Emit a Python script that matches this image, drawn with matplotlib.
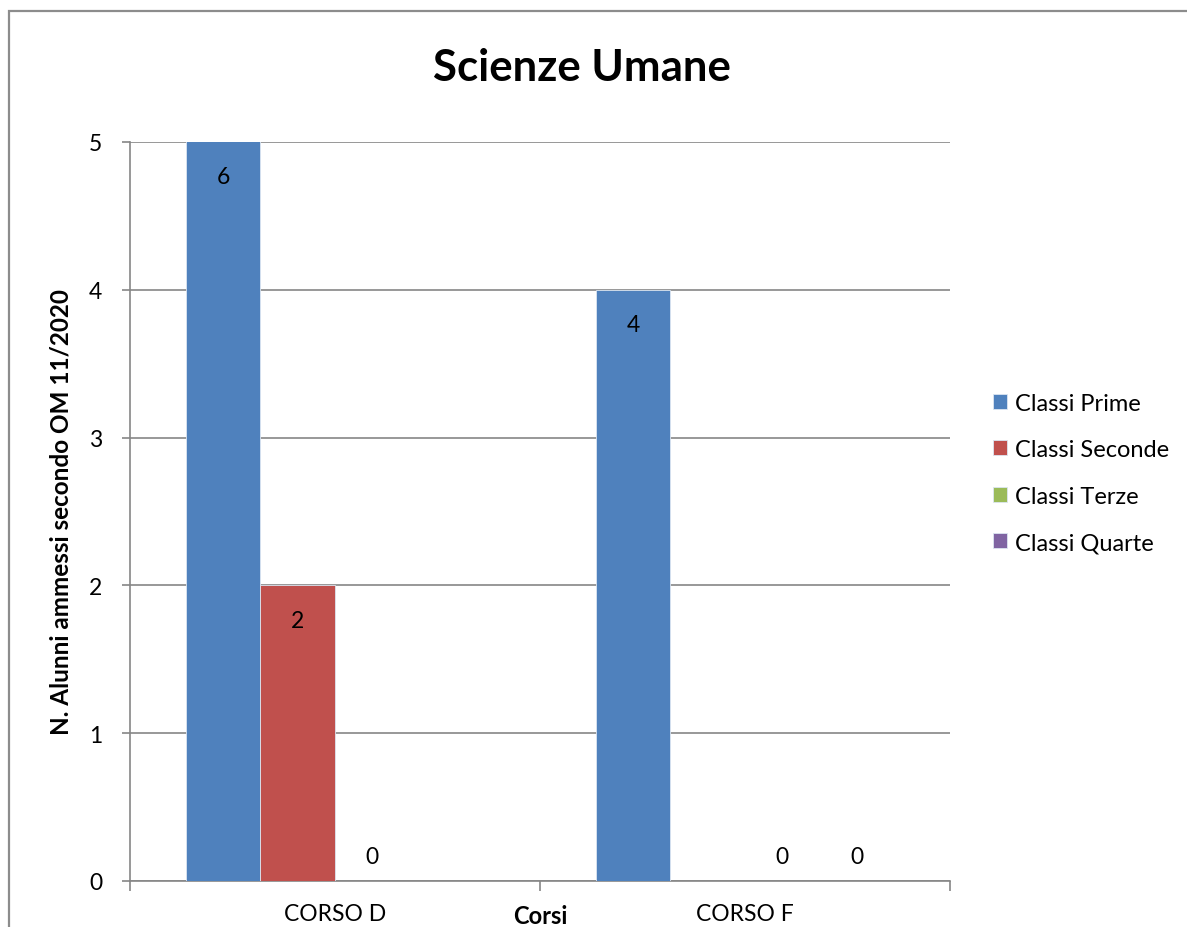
import numpy as np
import matplotlib
matplotlib.use("Agg")
import matplotlib.pyplot as plt
from matplotlib.patches import Rectangle

plt.rcParams['font.family'] = ['Lato', 'DejaVu Sans']

categories = ["CORSO D", "CORSO F"]
series_names = ["Classi Prime", "Classi Seconde", "Classi Terze", "Classi Quarte"]
prime = [6, 4]
seconde = [2, np.nan]
terze = [0, 0]
quarte = [np.nan, 0]
series_values = [prime, seconde, terze, quarte]
colors = ["#4F81BD", "#C0504D", "#9BBB59", "#8064A2"]
yticks = [0, 1, 2, 3, 4, 5]

W, H = 1187, 928
fig = plt.figure(figsize=(W / 100, H / 100), dpi=100)
fig.patch.set_facecolor("white")
# outer chart frame
fig.patches.append(Rectangle((9 / W, -0.1), 1.2, 1 - 12 / H + 0.1, transform=fig.transFigure,
                             fill=False, edgecolor="#8c8c8c", linewidth=1.6))

ax = fig.add_axes([130 / W, 1 - 882 / H, 820 / W, 739 / H])
ymax = 5
ax.set_ylim(0, ymax)
ax.set_xlim(0, len(categories))

n = len(series_names)
bw = 1 / (n + 1.5)
x = np.arange(len(categories)) + 0.5
for i, (name, vals, c) in enumerate(zip(series_names, series_values, colors)):
    xs = x + (i - (n - 1) / 2) * bw
    v = np.array(vals, dtype=float)
    ax.bar(xs, np.nan_to_num(v), width=bw, color=c, edgecolor="#dce6f2", linewidth=0.6,
           label=name, zorder=3)
    for xx, vv in zip(xs, v):
        if np.isnan(vv):
            continue
        top = min(vv, ymax)
        if vv > 0:
            ax.annotate(f"{vv:g}", (xx, top), xytext=(0, -25), textcoords="offset points",
                        ha="center", va="center", fontsize=16.5, color="black", zorder=4)
        else:
            ax.annotate(f"{vv:g}", (xx, 0), xytext=(0, 18), textcoords="offset points",
                        ha="center", va="center", fontsize=16.5, color="black", zorder=4)

ax.set_yticks(yticks)
ax.set_yticklabels([str(t) for t in yticks], fontsize=16.5)
ax.yaxis.grid(True, color="#868686", linewidth=1.2, zorder=0)
ax.set_axisbelow(True)
ax.tick_params(axis="y", length=6, width=1.2, color="#868686", pad=14)

ax.set_xticks(x)
ax.set_xticklabels(categories, fontsize=16.5)
ax.set_xticks(np.arange(len(categories) + 1), minor=True)
ax.tick_params(axis="x", which="major", length=0, pad=16)
ax.tick_params(axis="x", which="minor", length=7, width=1.2, color="#868686")

for s in ["top", "right"]:
    ax.spines[s].set_visible(False)
for s in ["left", "bottom"]:
    ax.spines[s].set_color("#868686")
    ax.spines[s].set_linewidth(1.2)

ax.text(0.5, -35 / 739, "Corsi", transform=ax.transAxes, ha="center", va="center",
        fontsize=17, fontweight="bold")
ax.set_ylabel("N. Alunni ammessi secondo OM 11/2020", fontsize=17.5, fontweight="bold", labelpad=12)

fig.text(582 / W, 1 - 68 / H, "Scienze Umane", ha="center", va="center", fontsize=31.5,
         fontweight="bold")

handles, labels = ax.get_legend_handles_labels()
leg = fig.legend(handles, labels, loc="center left", bbox_to_anchor=(993 / W, 1 - 474 / H),
                 frameon=False, fontsize=17, handlelength=0.6, handleheight=0.6,
                 handletextpad=0.35, labelspacing=1.08, borderpad=0, borderaxespad=0)

fig.savefig("out.png", dpi=100, facecolor="white")
